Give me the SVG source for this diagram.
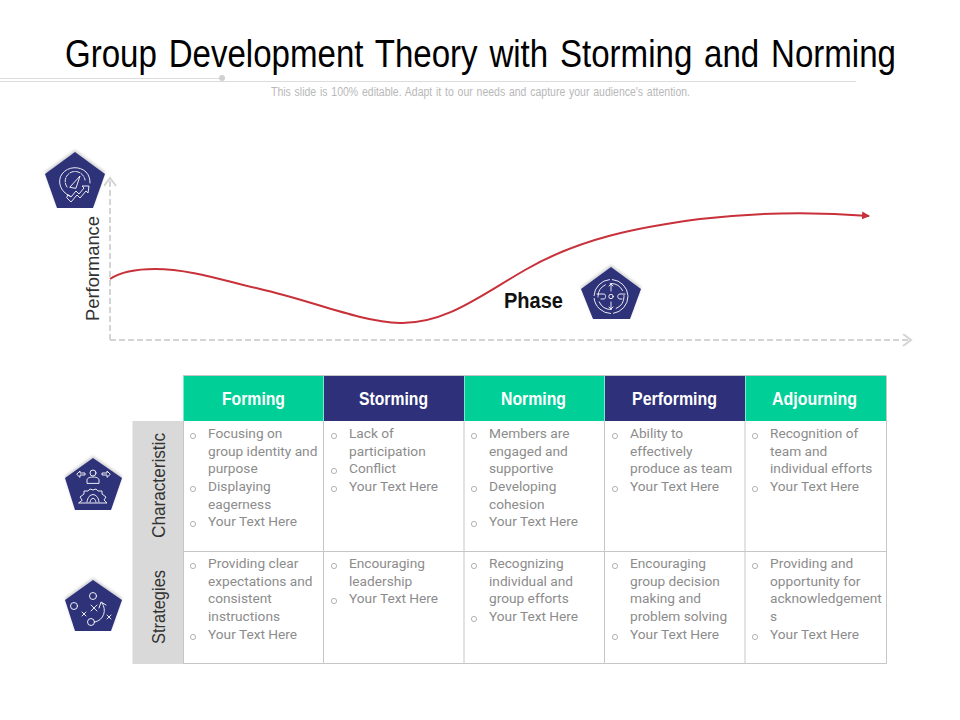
<svg xmlns="http://www.w3.org/2000/svg" width="960" height="720" viewBox="0 0 960 720">
<style>
text{font-family:"Liberation Sans","Roboto",sans-serif}
.h{font-size:19px;font-weight:700;fill:#fff}
.c{fill:#8c8c8c}
.c text{font-family:"Roboto","Liberation Sans",sans-serif;font-size:13.700px}
.b{fill:none;stroke:#a0a0a0;stroke-width:.8}
.side{font-size:19px;fill:#333}
.g{fill:none;stroke:#c6c6c6;stroke-width:1}
.ic{fill:none;stroke:#fff;stroke-width:.9;stroke-linecap:round;stroke-linejoin:round}
.pent{fill:#2e3179}
.ax{fill:none;stroke:#d4d4d4;stroke-width:2}
</style>
<defs>
<filter id="s" x="-20%" y="-20%" width="140%" height="140%"><feDropShadow dx="0" dy="-2" stdDeviation="1.500" flood-color="#000" flood-opacity=".2"/></filter>
<marker id="red" markerWidth="9" markerHeight="8" refX="7" refY="4" orient="auto" markerUnits="userSpaceOnUse"><path d="M0 0L8 4L0 8Z" fill="#c8303a"/></marker>
<marker id="open" markerWidth="14" markerHeight="14" refX="10" refY="6" orient="auto" markerUnits="userSpaceOnUse"><path d="M2 0L10 6L2 12" fill="none" stroke="#d4d4d4" stroke-width="2"/></marker>
<circle id="bu" r="2.600" class="b"/>
</defs>
<text transform="translate(65 67) scale(.88 1)" font-size="38" fill="#000" word-spacing="3" textLength="944.300" lengthAdjust="spacingAndGlyphs">Group Development Theory with Storming and Norming</text>
<g id="rule"><path d="M0 78.500H222M0 81.500H856" fill="none" stroke="#dcdcdc" stroke-width="1"/><circle cx="222" cy="78" r="3" fill="#d0d0d0"/></g>
<text x="271" y="96" font-size="12" fill="#b8b8b8" word-spacing="1" textLength="419" lengthAdjust="spacingAndGlyphs">This slide is 100% editable. Adapt it to our needs and capture your audience's attention.</text>
<g id="connectors">
<path class="ax" stroke-dasharray="6 3" marker-end="url(#open)" d="M110 340V178"/>
<path class="ax" stroke-dasharray="6 3" marker-end="url(#open)" d="M110 340H911"/>
<path fill="none" stroke="#c8303a" stroke-width="2" marker-end="url(#red)" d="M110 279C122 271 140 269 155 269C190 269 225 281 260 289C310 300 360 322 400 323C445 324 480 296 525 270C580 238 640 227 700 219C760 212 820 212 869 216"/>
</g>
<text class="side" x="99" y="321" transform="rotate(-90 99 321)" textLength="105" lengthAdjust="spacingAndGlyphs">Performance</text>
<g id="phase"><text x="504" y="308" font-size="22" font-weight="700" fill="#111" textLength="59" lengthAdjust="spacingAndGlyphs">Phase</text></g>
<g id="icon-performance"><path class="pent" filter="url(#s)" d="M75 152L105 174L93 208H57L45 174Z"/>
<g class="ic"><path d="M70 196C60 192 57 181 62 174C68 166 80 166 86 172C89 175 90 179 90 183"/><path d="M67 187C63 181 66 174 72 172C78 170 84 174 85 180" stroke-dasharray="4 1.500"/><path d="M70 187L80 176L76 188Z"/><path d="M67 198L71 202L77 195L80 198L86 191L88 193L89 186L82 186L84 188L79 194L76 191L71 197L68 195Z"/></g></g>
<g id="icon-phase"><path class="pent" filter="url(#s)" d="M611 267L641 289L630 319H593L581 289Z"/>
<g class="ic"><circle cx="611" cy="296.500" r="17" stroke-dasharray="24 3"/><circle cx="611" cy="296.500" r="13" stroke-dasharray="15 5"/><circle cx="611" cy="296.500" r="2.200"/><path d="M611 284V291M609 286L611 284L613 286M611 302V309M609 307L611 309L613 307M597 294H604C606 294 606 299 604 299H601M625 294H620C617 294 617 299 620 299H622"/></g></g>
<g id="icon-characteristic"><path class="pent" filter="url(#s)" d="M93 458L122 478L111 510H75L65 478Z"/>
<g class="ic"><circle cx="93" cy="473" r="3"/><path d="M87 483V480C87 478 90 477 93 477C96 477 99 478 99 480V483ZM77 474L80 471V473H85V475H80V477ZM110 474L107 471V473H102V475H107V477ZM79 503H107L104 500L106 497L102 494L102 491L98 491L96 489L93 490L90 489L88 491L84 491L84 494L80 497L82 500ZM87 502C88 492 98 492 99 502M90 502C91 497 95 497 96 502"/></g></g>
<g id="icon-strategies"><path class="pent" filter="url(#s)" d="M93 580L122 600L111 631H75L65 600Z"/>
<g class="ic"><circle cx="93" cy="596" r="3.500"/><circle cx="74" cy="606" r="3.500"/><circle cx="91" cy="622" r="3.500"/><path d="M95 622C104 620 107 610 102 603M99 608L101 602L106 605M91 605L97 611M97 605L91 611M82 612L86 616M86 612L82 616M107 615L111 619M111 615L107 619"/></g></g>
<g id="header">
<g id="h1"><rect x="183.500" y="376" width="140" height="45" fill="#00cf98"/><text class="h" x="222" y="405" textLength="63" lengthAdjust="spacingAndGlyphs">Forming</text></g>
<g id="h2"><rect x="324" y="376" width="140" height="45" fill="#2e3179"/><text class="h" x="359" y="405" textLength="69" lengthAdjust="spacingAndGlyphs">Storming</text></g>
<g id="h3"><rect x="464.500" y="376" width="140" height="45" fill="#00cf98"/><text class="h" x="501" y="405" textLength="65" lengthAdjust="spacingAndGlyphs">Norming</text></g>
<g id="h4"><rect x="605" y="376" width="140" height="45" fill="#2e3179"/><text class="h" x="632" y="405" textLength="85" lengthAdjust="spacingAndGlyphs">Performing</text></g>
<g id="h5"><rect x="745.500" y="376" width="141" height="45" fill="#00cf98"/><text class="h" x="772" y="405" textLength="85" lengthAdjust="spacingAndGlyphs">Adjourning</text></g>
</g>
<g id="sides">
<rect x="132.500" y="421" width="50.500" height="243" fill="#d9d9d9"/>
<text class="side" x="165" y="538" transform="rotate(-90 165 538)" textLength="105" lengthAdjust="spacingAndGlyphs">Characteristic</text>
<text class="side" x="165" y="644" transform="rotate(-90 165 644)" textLength="74" lengthAdjust="spacingAndGlyphs">Strategies</text>
</g>
<path class="g" d="M183.500 421V663.500M323.500 421V663.500M464 421V663.500M604.500 421V663.500M745 421V663.500M886.500 376V663.500M183 551.500H886.500M183 663.500H886.500M183 375.500H886.500"/>
<g id="r1">
<g class="c" transform="translate(0,-.7)">
<text x="208" y="439">Focusing on</text><text x="208" y="457">group identity and</text><text x="208" y="474">purpose</text><text x="208" y="492">Displaying</text><text x="208" y="510">eagerness</text><text x="208" y="527">Your Text Here</text>
<text x="349" y="439">Lack of</text><text x="349" y="457">participation</text><text x="349" y="474">Conflict</text><text x="349" y="492">Your Text Here</text>
<text x="489" y="439">Members are</text><text x="489" y="457">engaged and</text><text x="489" y="474">supportive</text><text x="489" y="492">Developing</text><text x="489" y="510">cohesion</text><text x="489" y="527">Your Text Here</text>
<text x="630" y="439">Ability to</text><text x="630" y="457">effectively</text><text x="630" y="474">produce as team</text><text x="630" y="492">Your Text Here</text>
<text x="770" y="439">Recognition of</text><text x="770" y="457">team and</text><text x="770" y="474">individual efforts</text><text x="770" y="492">Your Text Here</text>
</g>
<use href="#bu" x="193" y="436"/><use href="#bu" x="193" y="489"/><use href="#bu" x="193" y="524"/>
<use href="#bu" x="334" y="436"/><use href="#bu" x="334" y="471"/><use href="#bu" x="334" y="489"/>
<use href="#bu" x="474" y="436"/><use href="#bu" x="474" y="489"/><use href="#bu" x="474" y="524"/>
<use href="#bu" x="615" y="436"/><use href="#bu" x="615" y="489"/>
<use href="#bu" x="755" y="436"/><use href="#bu" x="755" y="489"/>
</g>
<g id="r2">
<g class="c" transform="translate(0,-.7)">
<text x="208" y="569">Providing clear</text><text x="208" y="587">expectations and</text><text x="208" y="604">consistent</text><text x="208" y="622">instructions</text><text x="208" y="640">Your Text Here</text>
<text x="349" y="569">Encouraging</text><text x="349" y="587">leadership</text><text x="349" y="604">Your Text Here</text>
<text x="489" y="569">Recognizing</text><text x="489" y="587">individual and</text><text x="489" y="604">group efforts</text><text x="489" y="622">Your Text Here</text>
<text x="630" y="569">Encouraging</text><text x="630" y="587">group decision</text><text x="630" y="604">making and</text><text x="630" y="622">problem solving</text><text x="630" y="640">Your Text Here</text>
<text x="770" y="569">Providing and</text><text x="770" y="587">opportunity for</text><text x="770" y="604">acknowledgement</text><text x="770" y="622">s</text><text x="770" y="640">Your Text Here</text>
</g>
<use href="#bu" x="193" y="566"/><use href="#bu" x="193" y="637"/>
<use href="#bu" x="334" y="566"/><use href="#bu" x="334" y="601"/>
<use href="#bu" x="474" y="566"/><use href="#bu" x="474" y="619"/>
<use href="#bu" x="615" y="566"/><use href="#bu" x="615" y="637"/>
<use href="#bu" x="755" y="566"/><use href="#bu" x="755" y="637"/>
</g>
</svg>
